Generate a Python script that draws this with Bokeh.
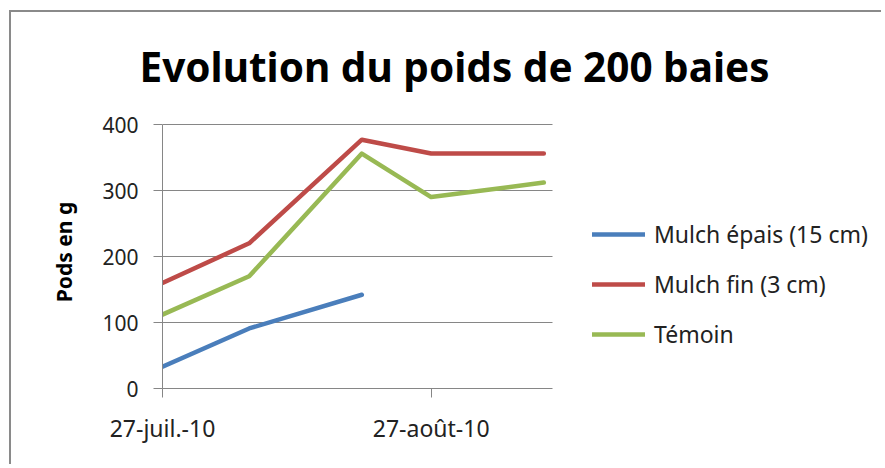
from datetime import date
import math
from bokeh.plotting import figure
from bokeh.models import Legend, LegendItem, FixedTicker, Range1d
from bokeh.embed import file_html
from bokeh.resources import INLINE

# ---- data ----
title_text = "Evolution du poids de 200 baies"
y_label = "Pods en g"
start_date = "2010-07-27"
end_date = "2010-09-10"
dates = ["2010-07-27", "2010-08-06", "2010-08-19", "2010-08-27", "2010-09-09"]
mulch_epais = [33, 91, 142, math.nan, math.nan]
mulch_fin = [160, 220, 377, 356, 356]
temoin = [112, 170, 356, 290, 312]
series_names = ["Mulch épais (15 cm)", "Mulch fin (3 cm)", "Témoin"]
series_colors = ["#4A7EBB", "#BE4B48", "#98B954"]
x_tick_dates = ["2010-07-27", "2010-08-27"]
x_tick_labels = ["27-juil.-10", "27-août-10"]
y_ticks = [0, 100, 200, 300, 400]
y_max = 400

d0 = date.fromisoformat(start_date)
def day(s):
    return (date.fromisoformat(s) - d0).days

xs = [day(d) for d in dates]
x_ticks = [day(d) for d in x_tick_dates]
x_end = day(end_date)

FONT = "Noto Sans"
GRAY = "#868686"

# layout: plotting area 390x264 px; frame extended to the right (legend) and slightly up
W, H = 872, 454
LEFT, RIGHT, TOP, BOTTOM = 151, 3, 103, 78
PLOT_W, PLOT_H = 390, 264
frame_w = W - LEFT - RIGHT
frame_h = H - TOP - BOTTOM
x_view_end = x_end * frame_w / PLOT_W
y_view_end = y_max * frame_h / PLOT_H

p = figure(width=W, height=H, x_range=Range1d(0, x_view_end), y_range=Range1d(0, y_view_end),
           output_backend="svg", toolbar_location=None,
           min_border_left=LEFT, min_border_right=RIGHT, min_border_top=TOP, min_border_bottom=BOTTOM,
           styles={"margin-left": "9px", "margin-top": "10px",
                   "border-top": "2px solid #8a8a8a", "border-left": "2px solid #8a8a8a"})
p.outline_line_color = None
p.background_fill_color = "white"

renderers = []
for vals, col in zip([mulch_epais, mulch_fin, temoin], series_colors):
    r = p.line(xs, vals, line_width=4.5, line_color=col, line_join="round", line_cap="round")
    renderers.append(r)

# y axis
p.yaxis.ticker = FixedTicker(ticks=y_ticks)
p.yaxis.bounds = (0, y_max)
p.ygrid.ticker = FixedTicker(ticks=y_ticks)
p.yaxis.axis_line_color = GRAY
p.yaxis.major_tick_line_color = GRAY
p.yaxis.major_tick_out = 9
p.yaxis.major_tick_in = 0
p.yaxis.minor_tick_line_color = None
p.yaxis.major_label_text_font = FONT
p.yaxis.major_label_text_font_size = "21px"
p.yaxis.major_label_text_color = "#222222"
p.yaxis.major_label_standoff = 15
p.yaxis.axis_label = y_label
p.yaxis.axis_label_text_font = FONT
p.yaxis.axis_label_text_font_style = "bold"
p.yaxis.axis_label_text_font_size = "21px"
p.yaxis.axis_label_text_color = "#000000"
p.yaxis.axis_label_standoff = 21

# x axis
p.xaxis.ticker = FixedTicker(ticks=x_ticks)
p.xaxis.bounds = (0, x_end)
p.xaxis.major_label_overrides = {t: l for t, l in zip(x_ticks, x_tick_labels)}
p.xaxis.axis_line_color = GRAY
p.xaxis.major_tick_line_color = GRAY
p.xaxis.major_tick_out = 9
p.xaxis.major_tick_in = 0
p.xaxis.minor_tick_line_color = None
p.xaxis.major_label_text_font = FONT
p.xaxis.major_label_text_font_size = "23px"
p.xaxis.major_label_text_color = "#222222"
p.xaxis.major_label_standoff = 14

p.xgrid.grid_line_color = None
p.ygrid.grid_line_color = GRAY
p.ygrid.grid_line_width = 1
p.ygrid.cross_bounds = (0, x_end)

legend = Legend(items=[LegendItem(label=n, renderers=[r]) for n, r in zip(series_names, renderers)],
                location=(430, 38), glyph_width=53, glyph_height=24, label_height=24,
                spacing=18, label_standoff=9, padding=0, margin=0,
                border_line_color=None, background_fill_alpha=0,
                label_text_font=FONT, label_text_font_size="23px", label_text_color="#222222")
p.add_layout(legend)

p.title.text = title_text
p.title.align = "left"
p.title.offset = -23
p.title.standoff = 44
p.title.text_font = FONT
p.title.text_font_style = "bold"
p.title.text_font_size = "40.5px"
p.title.text_color = "#000000"

open("out.html", "w").write(file_html(p, INLINE))
